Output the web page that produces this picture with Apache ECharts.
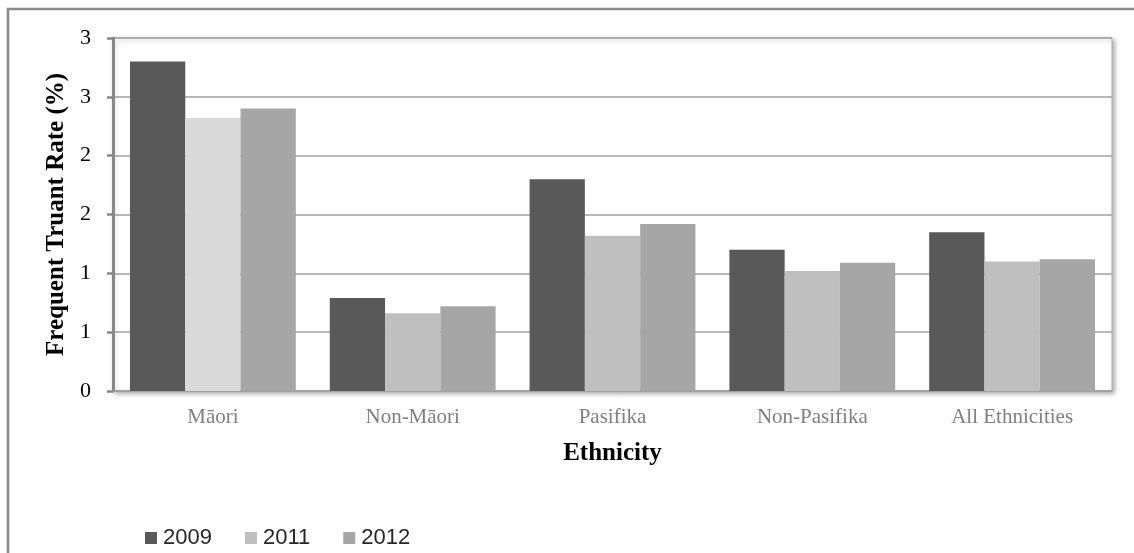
<!DOCTYPE html>
<html>
<head>
<meta charset="utf-8">
<style>
  html, body { margin: 0; padding: 0; background: #ffffff; }
  #chart { width: 1134px; height: 553px; }
</style>
<script src="https://cdn.jsdelivr.net/npm/echarts@6/dist/echarts.min.js"></script>
</head>
<body>
<div id="chart"></div>
<script>
// Frequent truant rate by ethnicity, three survey years
const categories = ['Māori', 'Non-Māori', 'Pasifika', 'Non-Pasifika', 'All Ethnicities'];
const years = ['2009', '2011', '2012'];
const rate2009 = [2.80, 0.79, 1.80, 1.20, 1.35];
const rate2011 = [2.32, 0.66, 1.32, 1.02, 1.10];
const rate2012 = [2.40, 0.72, 1.42, 1.09, 1.12];
const yTicks = { min: 0, max: 3, step: 0.5 };

const colors = ['#595959', '#bfbfbf', '#a6a6a6'];
const serif = '"Liberation Serif", "Times New Roman", serif';
const sans = '"Liberation Sans", Arial, sans-serif';

// The Māori 2011 bar is drawn in a lighter shade
const data2011 = rate2011.map((v, i) => i === 0 ? { value: v, itemStyle: { color: '#d9d9d9' } } : v);

const chart = echarts.init(document.getElementById('chart'), null, { renderer: 'canvas' });

const barSeries = (name, data, color) => ({
  name: name,
  type: 'bar',
  data: data,
  barGap: '0%',
  barCategoryGap: '17%',
  itemStyle: { color: color },
  emphasis: { disabled: true },
  animation: false
});

chart.setOption({
  animation: false,
  backgroundColor: '#ffffff',
  color: colors,
  graphic: [{
    type: 'rect',
    silent: true,
    z: -10,
    shape: { x: 8, y: 9, width: 1300, height: 700 },
    style: { fill: 'none', stroke: '#8a8a8a', lineWidth: 2.5 }
  }],
  grid: {
    left: 113, top: 38, right: 22, bottom: 162,
    show: true,
    backgroundColor: '#ffffff',
    borderColor: '#b4b4b4',
    borderWidth: 1,
    shadowColor: 'rgba(0,0,0,0.35)',
    shadowBlur: 5,
    shadowOffsetX: 2,
    shadowOffsetY: 2
  },
  legend: {
    left: 140, top: 522,
    itemWidth: 12, itemHeight: 12,
    itemGap: 33,
    icon: 'rect',
    textStyle: { fontFamily: sans, fontSize: 22, color: '#262626', padding: [0, 0, 0, 1] },
    data: years
  },
  xAxis: {
    type: 'category',
    data: categories,
    name: 'Ethnicity',
    nameLocation: 'middle',
    nameGap: 50,
    nameTextStyle: { fontFamily: serif, fontSize: 25, fontWeight: 'bold', color: '#000000' },
    axisLine: { lineStyle: { color: '#a0a0a0', width: 1.5 } },
    axisTick: { show: false },
    axisLabel: { fontFamily: serif, fontSize: 21, color: '#7f7f7f', margin: 16 }
  },
  yAxis: {
    type: 'value',
    min: yTicks.min, max: yTicks.max, interval: yTicks.step,
    name: 'Frequent Truant Rate (%)',
    nameLocation: 'middle',
    nameGap: 44,
    nameTextStyle: { fontFamily: serif, fontSize: 25, fontWeight: 'bold', color: '#000000' },
    axisLine: { show: true, lineStyle: { color: '#868686', width: 3 } },
    axisTick: { show: true, length: 6, lineStyle: { color: '#868686', width: 2.5 } },
    axisLabel: {
      fontFamily: serif, fontSize: 22, color: '#000000', margin: 22,
      formatter: v => String(Math.round(v))
    },
    splitLine: { lineStyle: { color: '#a0a0a0', width: 1.5 } }
  },
  series: [
    barSeries(years[0], rate2009, colors[0]),
    barSeries(years[1], data2011, colors[1]),
    barSeries(years[2], rate2012, colors[2])
  ]
});
</script>
</body>
</html>
